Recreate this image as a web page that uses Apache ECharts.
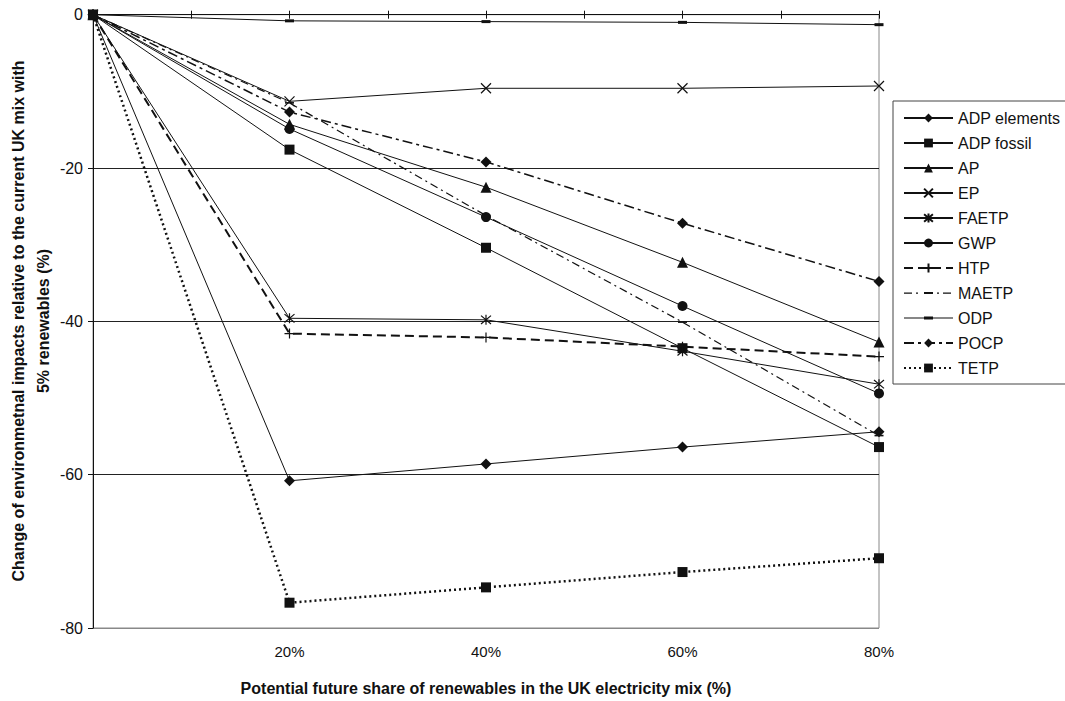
<!DOCTYPE html>
<html>
<head>
<meta charset="utf-8">
<script src="https://cdn.jsdelivr.net/npm/echarts@6/dist/echarts.min.js"></script>
<style>html,body{margin:0;padding:0;background:#fff}#c{width:1065px;height:701px}</style>
</head>
<body>
<div id="c"></div>
<script>
const shares = [0, 20, 40, 60, 80];
const xTickLabels = ['', '', '20%', '', '40%', '', '60%', '', '80%'];
const yTickValues = [0, -20, -40, -60, -80];
const seriesNames = ['ADP elements', 'ADP fossil', 'AP', 'EP', 'FAETP', 'GWP', 'HTP', 'MAETP', 'ODP', 'POCP', 'TETP'];
const adpElements = [0, -60.8, -58.6, -56.4, -54.4];
const adpFossil   = [0, -17.6, -30.4, -43.5, -56.4];
const ap          = [0, -14.3, -22.5, -32.3, -42.7];
const ep          = [0, -11.3, -9.6, -9.6, -9.3];
const faetp       = [0, -39.6, -39.8, -43.9, -48.2];
const gwp         = [0, -14.9, -26.4, -38.0, -49.4];
const htp         = [0, -41.6, -42.1, -43.3, -44.6];
const maetp       = [0, -11.5, -26.2, -40.1, -54.9];
const odp         = [0, -0.8, -0.9, -1.0, -1.3];
const pocp        = [0, -12.7, -19.2, -27.2, -34.8];
const tetp        = [0, -76.7, -74.7, -72.7, -70.9];
const yTitle = 'Change of environmetnal impacts relative to the current UK mix with\n5% renewables (%)';
const xTitle = 'Potential future share of renewables in the UK electricity mix (%)';

const FONT = "'Liberation Sans', Arial, sans-serif";
const pair = arr => shares.map((x, i) => [x, arr[i]]);

// legend icons for the two series whose markers are short dashes (49 x 11 box)
const corners = 'M0,0L0.01,0L0,0.01ZM49,11L48.99,11L49,10.99Z';
const odpIcon = 'path://' + corners + 'M0,5L49,5L49,6L0,6ZM20,4L29,4L29,7L20,7Z';
const maetpIcon = 'path://' + corners +
  'M0,5L8,5L8,6.2L0,6.2ZM12,5L14,5L14,6.2L12,6.2Z' +
  'M20,4.6L29,4.6L29,6.6L20,6.6Z' +
  'M33,5L35,5L35,6.2L33,6.2ZM39,5L47,5L47,6.2L39,6.2Z';

const styles = {
  'ADP elements': {symbol: 'diamond', size: 11, line: {type: 'solid', width: 1}},
  'ADP fossil':   {symbol: 'rect', size: 10, line: {type: 'solid', width: 1}},
  'AP':           {symbol: 'triangle', size: 11, line: {type: 'solid', width: 1}},
  'EP':           {symbol: 'path://M0,0L10,10M10,0L0,10', size: 10, stroke: true, line: {type: 'solid', width: 1}},
  'FAETP':        {symbol: 'path://M0,0L10,10M10,0L0,10M5,-1L5,11', size: 10, stroke: true, line: {type: 'solid', width: 1}},
  'GWP':          {symbol: 'circle', size: 10, line: {type: 'solid', width: 1}},
  'HTP':          {symbol: 'path://M5,0L5,10M0,5L10,5', size: 10, stroke: true, line: {type: [9, 5], width: 2}},
  'MAETP':        {symbol: 'path://M0,0L9,0L9,1.6L0,1.6Z', size: 9, keep: true, icon: maetpIcon, line: {type: [8, 4, 2, 4], width: 1.2}},
  'ODP':          {symbol: 'path://M0,0L9,0L9,3L0,3Z', size: 9, keep: true, icon: odpIcon, line: {type: 'solid', width: 1}},
  'POCP':         {symbol: 'diamond', size: 11, line: {type: [10, 4, 3, 4], width: 1.5}},
  'TETP':         {symbol: 'rect', size: 10, line: {type: [2, 3], width: 2.5}}
};
const dataMap = {
  'ADP elements': adpElements, 'ADP fossil': adpFossil, 'AP': ap, 'EP': ep, 'FAETP': faetp,
  'GWP': gwp, 'HTP': htp, 'MAETP': maetp, 'ODP': odp, 'POCP': pocp, 'TETP': tetp
};

const series = seriesNames.map(name => {
  const s = styles[name];
  return {
    name: name,
    type: 'line',
    data: pair(dataMap[name]),
    symbol: s.symbol,
    symbolSize: s.size,
    symbolKeepAspect: !!s.keep,
    showAllSymbol: true,
    lineStyle: {color: '#111', width: s.line.width, type: s.line.type},
    itemStyle: s.stroke ? {color: '#111', borderColor: '#111', borderWidth: 1.2} : {color: '#111', borderWidth: 0},
    emphasis: {disabled: true},
    animation: false
  };
});

const legendData = seriesNames.map(name => styles[name].icon
  ? {name: name, icon: styles[name].icon, itemStyle: {color: '#111', borderWidth: 0}}
  : {name: name});

const chart = echarts.init(document.getElementById('c'), null, {renderer: 'svg'});
chart.setOption({
  animation: false,
  backgroundColor: '#fff',
  grid: {left: 93, right: 186, top: 14.7, bottom: 73, show: true, borderColor: '#888', borderWidth: 1,
         backgroundColor: 'transparent', containLabel: false, outerBoundsMode: 'none'},
  graphic: [{
    type: 'text', x: 31, y: 321, rotation: Math.PI / 2, silent: true,
    style: {text: yTitle, font: "bold 16px 'Liberation Sans', Arial, sans-serif", fill: '#111',
            align: 'center', verticalAlign: 'middle', lineHeight: 25}
  }],
  legend: {
    orient: 'vertical', left: 893, top: 101,
    data: legendData,
    itemWidth: 49, itemHeight: 11, itemGap: 9,
    symbolKeepAspect: true,
    padding: [9, 12, 8, 10],
    borderColor: '#444', borderWidth: 1, backgroundColor: '#fff',
    textStyle: {fontFamily: FONT, fontSize: 16, color: '#111', lineHeight: 16},
    selectedMode: false
  },
  xAxis: [
    {
      type: 'value', min: 0, max: 80, interval: 10, position: 'bottom',
      axisLine: {show: false},
      axisTick: {show: false},
      splitLine: {show: false},
      axisLabel: {formatter: (v) => xTickLabels[v / 10] || '', fontFamily: FONT, fontSize: 15, color: '#111', margin: 16},
      name: xTitle,
      nameLocation: 'middle', nameGap: 52,
      nameTextStyle: {fontFamily: FONT, fontSize: 16, fontWeight: 'bold', color: '#111'}
    },
    {
      type: 'value', min: 0, max: 80, interval: 10, position: 'top',
      axisLine: {show: true, onZero: false, lineStyle: {color: '#111', width: 1}},
      axisTick: {show: true, inside: true, length: 4, lineStyle: {color: '#111'}},
      axisLabel: {show: false}, splitLine: {show: false}
    },
    {
      type: 'value', min: 0, max: 80, interval: 10, position: 'top',
      axisLine: {show: false},
      axisTick: {show: true, inside: false, length: 4, lineStyle: {color: '#111'}},
      axisLabel: {show: false}, splitLine: {show: false}
    }
  ],
  yAxis: {
    type: 'value', min: yTickValues[yTickValues.length - 1], max: yTickValues[0], interval: 20,
    axisLine: {show: true, onZero: false, lineStyle: {color: '#111', width: 1}},
    axisTick: {show: true, inside: false, length: 5, lineStyle: {color: '#111'}},
    axisLabel: {fontFamily: FONT, fontSize: 16, color: '#111', margin: 10},
    splitLine: {show: true, lineStyle: {color: ['#888', '#222', '#222', '#222', '#111'], width: 1}}
  },
  series: series
});
</script>
</body>
</html>
